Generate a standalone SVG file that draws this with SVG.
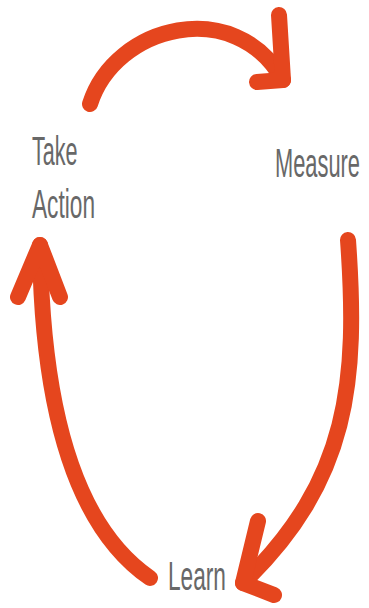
<svg xmlns="http://www.w3.org/2000/svg" width="369" height="608" viewBox="0 0 369 608">
  <style>
    .arrow { fill: none; stroke: #E5461E; stroke-width: 16; stroke-linecap: round; stroke-linejoin: round; }
    .label { font-family: "Liberation Sans", Arial, sans-serif; font-size: 40px; fill: #686868; }
  </style>
  <rect width="369" height="608" fill="#ffffff"/>

  <!-- cycle stages: condensed lettering via a horizontal scale -->
  <g id="take-action">
    <text class="label" transform="translate(32,165) scale(0.54,1)">Take</text>
    <text class="label" transform="translate(32,218) scale(0.567,1)">Action</text>
  </g>
  <g id="measure">
    <text class="label" transform="translate(275,177) scale(0.546,1)">Measure</text>
  </g>
  <g id="learn">
    <text class="label" transform="translate(168,590) scale(0.567,1)">Learn</text>
  </g>

  <!-- curved connectors with open chevron heads -->
  <g id="connectors">
    <!-- Take Action -> Measure -->
    <path class="arrow" d="M90,104 C115,25 235,-5 283,80"/>
    <path class="arrow" d="M279,15 L283,80 L257,82"/>
    <!-- Measure -> Learn -->
    <path class="arrow" d="M348,240 C358,380 350,480 243,583"/>
    <path class="arrow" d="M258,521 L243,583 L274,595"/>
    <!-- Learn -> Take Action -->
    <path class="arrow" d="M150,578 C80,530 42,420 40,245"/>
    <path class="arrow" d="M18,297 L40,245 L60,297"/>
  </g>
</svg>
